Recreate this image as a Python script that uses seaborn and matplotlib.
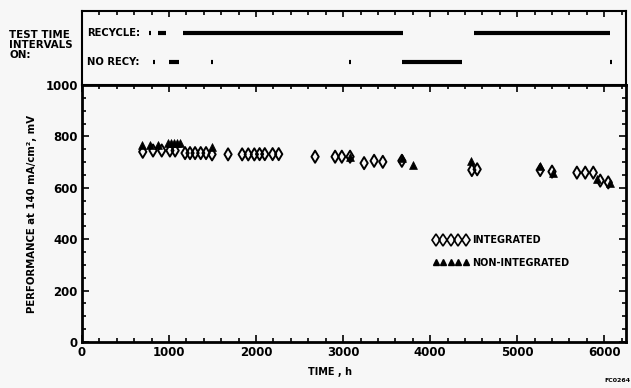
import matplotlib
matplotlib.use("Agg")
import matplotlib.pyplot as plt
import seaborn as sns
import pandas as pd
from matplotlib.lines import Line2D
from matplotlib.ticker import MultipleLocator

# ---------------- data ----------------
int_time = [698, 816, 916, 1010, 1070, 1184, 1241, 1299, 1364, 1425, 1494, 1678,
            1840, 1910, 1980, 2040, 2100, 2190, 2260, 2678, 2908, 2985, 3080,
            3241, 3356, 3456, 3675, 4479, 4540, 5264, 5400, 5686, 5782, 5874,
            5954, 6046]
int_perf = [740, 745, 745, 745, 745, 735, 735, 735, 735, 735, 730, 730,
            730, 730, 730, 731, 731, 731, 731, 721, 721, 721, 721,
            696, 705, 701, 705, 669, 672, 669, 663, 659, 659, 659,
            628, 621]

non_time = [686, 782, 874, 990, 1025, 1060, 1095, 1126, 1494, 3080, 3675, 3801,
            4470, 5264, 5414, 5916, 6069]
non_perf = [766, 766, 766, 775, 775, 775, 775, 775, 760, 720, 715, 690,
            705, 685, 659, 634, 618]

recycle_start = [770, 870, 1160, 4500]
recycle_end = [790, 960, 3690, 6070]
norecy_start = [820, 1000, 1480, 3065, 3680, 6070]
norecy_end = [840, 1110, 1500, 3085, 4370, 6090]

legend_labels = ["INTEGRATED", "NON-INTEGRATED"]
row_labels = ["RECYCLE:", "NO RECY:"]

# ---------------- style ----------------
sns.set_theme(style="white")
plt.rcParams["font.family"] = ["DejaVu Sans"]
plt.rcParams["font.weight"] = "bold"
for k in ["text.color", "axes.labelcolor", "xtick.color", "ytick.color"]:
    plt.rcParams[k] = "black"
BG = "#f7f7f7"

fig = plt.figure(figsize=(6.31, 3.88), dpi=100, facecolor=BG)
W, H = 631, 388
L, R = 82, 626
ax = fig.add_axes([L / W, (H - 342) / H, (R - L) / W, (342 - 85) / H], facecolor=BG)
axt = fig.add_axes([L / W, (H - 85) / H, (R - L) / W, (85 - 11) / H], facecolor=BG)

df_int = pd.DataFrame({"time": int_time, "perf": int_perf})
df_non = pd.DataFrame({"time": non_time, "perf": non_perf})

sns.scatterplot(data=df_int, x="time", y="perf", ax=ax, marker="d", s=38,
                facecolor="none", edgecolor="black", linewidth=1.4, zorder=3)
sns.scatterplot(data=df_non, x="time", y="perf", ax=ax, marker="^", s=32,
                color="black", edgecolor="black", linewidth=0.5, zorder=4)

ax.set_xlim(0, 6250)
ax.set_ylim(0, 1000)
ax.xaxis.set_minor_locator(MultipleLocator(200))
ax.yaxis.set_minor_locator(MultipleLocator(50))
ax.tick_params(which="both", direction="in", top=True, right=True, bottom=True, left=True,
               width=1.2, color="black", labelcolor="black")
ax.tick_params(which="major", length=5, labelsize=8.5, pad=3)
ax.tick_params(which="minor", length=3)
ax.set_xticks([0, 1000, 2000, 3000, 4000, 5000, 6000])
ax.set_xticklabels(["0", "1000", "2000", "3000", "4000", "5000", "6000"], fontweight="bold")
ax.set_yticks([0, 200, 400, 600, 800, 1000])
ax.set_yticklabels(["0", "200", "400", "600", "800", "1000"], fontweight="bold")
for sp in ax.spines.values():
    sp.set_linewidth(2)
    sp.set_color("black")
ax.set_xlabel("")
ax.set_ylabel("PERFORMANCE at 140 mA/cm², mV", fontsize=7.3, fontweight="bold",
              labelpad=6, color="black")
fig.text(330 / W, 1 - 372 / H, "TIME , h", fontsize=7, fontweight="bold",
         ha="center", va="center", color="black")
fig.text(617 / W, 1 - 381 / H, "FC0264", fontsize=4.5, ha="center", va="center",
         color="black")

handles = [Line2D([], [], marker="d", ls="none", mfc="none", mec="black", mew=1.2, ms=6),
           Line2D([], [], marker="^", ls="none", mfc="black", mec="black", ms=5)]
leg = ax.legend(handles, legend_labels, numpoints=5, loc="upper left",
                bbox_to_anchor=(0.638, 0.43), frameon=False, handlelength=3.7,
                handletextpad=0.35, labelspacing=1.25, borderaxespad=0,
                prop={"size": 7, "weight": "bold"})
for t in leg.get_texts():
    t.set_color("black")

# ---------------- top panel ----------------
axt.set_xlim(0, 6250)
axt.set_ylim(0, 1)
y_rec, y_no = 0.70, 0.31
axt.hlines([y_rec] * len(recycle_start), recycle_start, recycle_end, color="black",
           lw=3, capstyle="butt")
axt.hlines([y_no] * len(norecy_start), norecy_start, norecy_end, color="black",
           lw=3, capstyle="butt")
axt.text(60, y_rec, row_labels[0], fontsize=7.2, fontweight="bold", va="center",
         ha="left", color="black")
axt.text(60, y_no, row_labels[1], fontsize=7.2, fontweight="bold", va="center",
         ha="left", color="black")
axt.set_yticks([])
axt.xaxis.set_minor_locator(MultipleLocator(200))
axt.xaxis.set_major_locator(MultipleLocator(1000))
axt.tick_params(which="both", direction="in", top=True, bottom=False, labelbottom=False,
                labeltop=False, width=1.2, color="black")
axt.tick_params(which="major", length=4)
axt.tick_params(which="minor", length=3)
for sp in axt.spines.values():
    sp.set_linewidth(1.5)
    sp.set_color("black")
fig.text(9 / W, 1 - 45 / H, "TEST TIME\nINTERVALS\nON:", fontsize=7.4, fontweight="bold",
         ha="left", va="center", linespacing=1.05, color="black")

fig.savefig("out.png", dpi=100, facecolor=BG)
